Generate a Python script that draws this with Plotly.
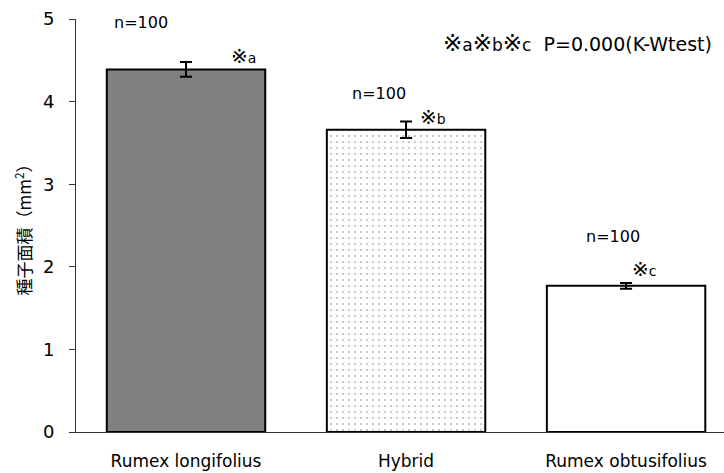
import plotly.graph_objects as go

categories = ["Rumex longifolius", "Hybrid", "Rumex obtusifolius"]
means = [4.39, 3.66, 1.77]
errors = [0.09, 0.10, 0.035]
fills = ["#808080", "#ffffff", "#ffffff"]
patterns = ["", ".", ""]
n_labels = ["n=100", "n=100", "n=100"]
sig_letters = ["a", "b", "c"]
y_ticks = [0, 1, 2, 3, 4, 5]
stat_tail = "P=0.000(K-Wtest)"

FONT = "DejaVu Sans, Noto Sans CJK JP, sans-serif"
CJK = "Noto Sans CJK JP, sans-serif"


def kome(letter, big=20, small=14):
    return ("<span style='font-size:%dpx'>※</span>" % big +
            "<span style='font-size:%dpx'>" % small + letter + "</span>")


fig = go.Figure()
for i, (cat, m, e, c, p) in enumerate(zip(categories, means, errors, fills, patterns)):
    fig.add_trace(go.Bar(
        x=[i], y=[m], width=0.72,
        marker=dict(
            color=c,
            line=dict(color="black", width=2),
            pattern=dict(shape=p, fgcolor="#7a7a7a", bgcolor="white",
                         size=6, solidity=0.1, fillmode="overlay"),
        ),
        error_y=dict(type="data", array=[e], color="black", thickness=2, width=6),
        showlegend=False, name=cat,
    ))

# annotation positions (data coords)
n_pos = [(-0.205, 4.96), (0.877, 4.10), (1.94, 2.37)]
s_pos = [(0.259, 4.55), (1.123, 3.81), (2.08, 1.97)]
for (xx, yy), t in zip(n_pos, n_labels):
    fig.add_annotation(x=xx, y=yy, text=t, showarrow=False,
                       font=dict(size=16, color="black", family=FONT))
for (xx, yy), t in zip(s_pos, sig_letters):
    fig.add_annotation(x=xx, y=yy, text=kome(t), showarrow=False,
                       font=dict(size=16, color="black", family=FONT))
stat_text = kome("a", 23, 17) + kome("b", 23, 17) + kome("c", 23, 17) + "  " + stat_tail
fig.add_annotation(x=1.777, y=4.71, text=stat_text, showarrow=False,
                   font=dict(size=19, color="black", family=FONT))

fig.update_layout(
    width=724, height=473,
    margin=dict(l=76, r=0, t=19, b=41),
    plot_bgcolor="white", paper_bgcolor="white",
    font=dict(family=FONT, size=16, color="black"),
    barmode="overlay",
)
fig.update_xaxes(
    range=[-0.5, 2.445], tickvals=[0, 1, 2], ticktext=categories,
    showline=True, linecolor="#333333", linewidth=1, ticks="",
    showgrid=False, zeroline=False, tickfont=dict(size=17, color="black"),
    ticklabelstandoff=14,
)
fig.update_yaxes(
    range=[0, 5], tickvals=y_ticks, ticks="outside", ticklen=6,
    tickcolor="#333333", showline=True, linecolor="#333333", linewidth=1,
    showgrid=False, zeroline=False, tickfont=dict(size=18, color="black"),
    ticklabelstandoff=11,
    title=dict(text="種子面積（mm<sup>2</sup>）",
               font=dict(size=17, family=CJK, color="black"), standoff=6),
)

fig.write_html("out.html")
